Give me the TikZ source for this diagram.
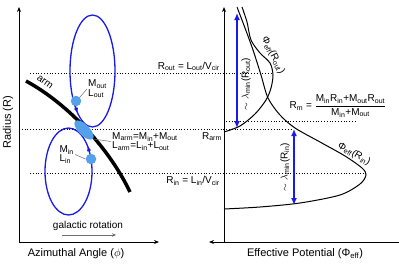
\documentclass[tikz,border=0pt]{standalone}
\usepackage{fontspec}
\setmainfont{Liberation Sans}
\usepackage{tikz}
\usetikzlibrary{arrows.meta,shapes.geometric}
\definecolor{orbitblue}{RGB}{25,25,235}
\definecolor{clumpblue}{RGB}{85,160,235}
\definecolor{leadgray}{RGB}{110,110,110}

\begin{document}
\begin{tikzpicture}[x=1pt,y=-1pt,
	axis/.style={-{Stealth[length=5pt,width=4pt]},line width=0.8pt},
	level/.style={dotted,line width=0.8pt},
	orbit/.style={orbitblue,line width=1.3pt},
	clump/.style={circle,fill=clumpblue,inner sep=0pt,minimum size=10.5pt},
	lbl/.style={font=\fontsize{10}{9.5}\selectfont,inner sep=1pt},
	big/.style={font=\fontsize{11}{12}\selectfont,inner sep=1pt},
	leader/.style={leadgray,line width=0.5pt},
	span/.style={orbitblue,line width=2.2pt,{Latex[length=7pt,width=6pt]}-{Latex[length=7pt,width=6pt]}},
	pot/.style={line width=1pt}]
			\useasboundingbox (0,0) rectangle (399,265);
			\pgfmathsetmacro{\yout}{73}
			\pgfmathsetmacro{\ym}{121}
			\pgfmathsetmacro{\yarm}{129}
			\pgfmathsetmacro{\yin}{173}
			\pgfmathsetmacro{\xl}{19}
			\pgfmathsetmacro{\xr}{224}
			\pgfmathsetmacro{\yb}{242}
			\coordinate (lo) at (\xl,\yb);
			\coordinate (ltop) at (\xl,7);
			\coordinate (lright) at (159,\yb);
			\coordinate (ro) at (\xr,\yb);
			\coordinate (rtop) at (\xr,7);
			\coordinate (rend) at (399,\yb);
			\coordinate (rleft) at (209,\yb);
			\draw[axis] (lo) -- (ltop);
			\draw[axis] (lo) -- (lright);
			\draw[axis] (ro) -- (rtop);
			\draw[axis] (rend) -- (rleft);
			\draw[level] (30,\yout) -- (272,\yout);
			\draw[level] (\xl,\yarm) -- (292,\yarm);
			\draw[level] (226,\ym) -- (357,\ym);
			\draw[level] (30,\yin) -- (366,\yin);
			\node[big,rotate=90] (radlbl) at (8,122) {Radius (R)};
			\node[big] (azilbl) at (76,254) {Azimuthal Angle ($\phi$)};
			\node[big] (potlbl) at (305,254) {Effective Potential (Φ\textsubscript{eff})};
			\node[lbl] (rotlbl) at (88,226) {galactic rotation};
			\coordinate (rotL) at (62,235);
			\coordinate (rotR) at (116,235);
			\draw[leadgray,line width=1pt,-{Stealth[length=4pt,width=3.5pt]}] (rotL) -- (rotR);
			\draw[orbit] (92.5,71) ellipse [x radius=22.5, y radius=56];
			\draw[orbit] (68.5,171.5) ellipse [x radius=23.5, y radius=43.5];
			\draw[line width=3.5pt] (26,81) .. controls (70,105) and (110,150) .. (130,192);
			\node[lbl,rotate=-35] (armlbl) at (45,82) {arm};
			\draw[orbit,-{Latex[length=5pt,width=4.5pt]}] (75.4,106) -- (77.4,113);
			\draw[orbit,-{Latex[length=5pt,width=4.5pt]}] (89.4,152) -- (87.8,146);
			\node[clump] (mout) at (76,101) {};
			\node[clump] (min) at (91,159) {};
			\node[ellipse,fill=clumpblue,inner sep=0pt,minimum width=25pt,minimum height=11pt,rotate=-45] (marm) at (84,130) {};
			\node[lbl,align=left,anchor=west] (moutlbl) at (87,89) {M\textsubscript{out}\\L\textsubscript{out}};
			\node[lbl,align=left,anchor=east] (minlbl) at (75,154.5) {M\textsubscript{in}\\L\textsubscript{in}};
			\node[lbl,align=left,anchor=west] (marmlbl) at (111,141.5) {M\textsubscript{arm}=M\textsubscript{in}+M\textsubscript{out}\\L\textsubscript{arm}=L\textsubscript{in}+L\textsubscript{out}};
			\draw[leader] (mout.north east) -- (moutlbl.west);
			\draw[leader] (min.west) -- (minlbl.east);
			\draw[leader] (marm.east) -- (marmlbl.west);
			\node[lbl,anchor=south east] (routlbl) at (221,72) {R\textsubscript{out} = L\textsubscript{out}/V\textsubscript{cir}};
			\node[lbl,anchor=north east] (rinlbl) at (221,175) {R\textsubscript{in} = L\textsubscript{in}/V\textsubscript{cir}};
			\node[lbl,anchor=north] (rarmlbl) at (212,131) {R\textsubscript{arm}};
			\node[lbl] (rmlbl) at (338,106) {R\textsubscript{m} = $\displaystyle\frac{\mbox{M\textsubscript{in}R\textsubscript{in}+M\textsubscript{out}R\textsubscript{out}}}{\mbox{M\textsubscript{in}+M\textsubscript{out}}}$};
			\draw[pot] plot[smooth] coordinates {(242,7) (247,22) (251,40) (260,53) (270,63) (273,75) (271,88) (266,100) (255,114) (240,126) (224,132)};
			\draw[pot] plot[smooth] coordinates {(237,7) (245,28) (253,50) (261,75) (268,98) (280,115) (295,128) (320,142) (345,156) (362,168) (366,175) (360,184) (340,195) (300,203) (260,207) (224,209)};
			\coordinate (spanouttop) at (237,13);
			\coordinate (spanoutbot) at (237,128);
			\coordinate (spanintop) at (294,129);
			\coordinate (spaninbot) at (294,205);
			\draw[span] (spanouttop) -- (spanoutbot);
			\draw[span] (spanintop) -- (spaninbot);
			\node[lbl,rotate=90] (lamoutlbl) at (246,84) {$\sim$ $\lambda$\textsubscript{min}(R\textsubscript{out})};
			\node[lbl,rotate=90] (laminlbl) at (285,167) {$\sim$ $\lambda$\textsubscript{min}(R\textsubscript{in})};
			\node[lbl,rotate=-63] (phioutlbl) at (273,55) {Φ\textsubscript{eff}(R\textsubscript{out})};
			\node[lbl,rotate=-30] (phiinlbl) at (354,154) {Φ\textsubscript{eff}(R\textsubscript{in})};
		\end{tikzpicture}
\end{document}
